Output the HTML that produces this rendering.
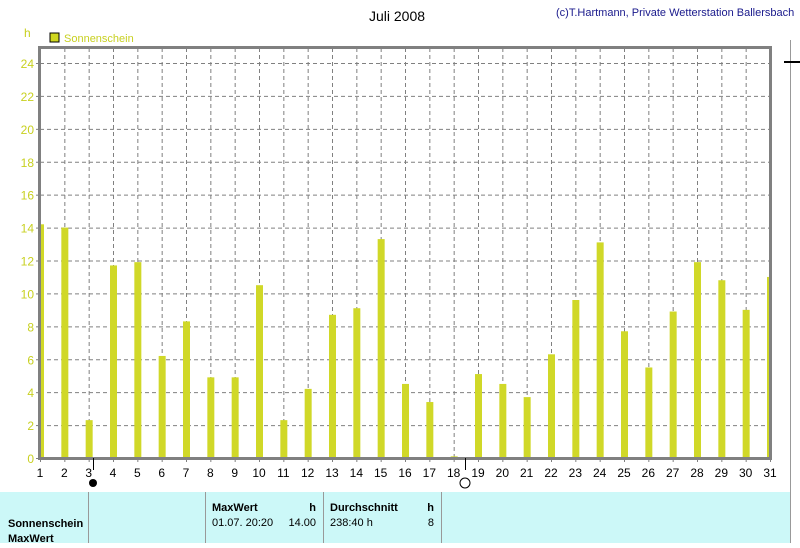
<!DOCTYPE html>
<html><head><meta charset="utf-8"><style>
body{margin:0;width:800px;height:543px;overflow:hidden;background:#fff;font-family:"Liberation Sans",sans-serif}
svg text{font-family:"Liberation Sans",sans-serif}
</style></head><body>
<svg id="c" width="800" height="543">
<text x="397" y="21" font-size="14" text-anchor="middle" fill="#000">Juli 2008</text>
<text x="556" y="16" font-size="11" fill="#1a1a8c">(c)T.Hartmann, Private Wetterstation Ballersbach</text>
<text x="24" y="37" font-size="12" fill="#c8d020">h</text>
<rect x="50" y="33" width="9" height="9" fill="#d0d820" stroke="#000"/>
<text x="64" y="42" font-size="11" fill="#c8d020">Sonnenschein</text>
<g id="grid"></g><g id="bars"></g><g id="axes"></g>
<rect x="0" y="492" width="790" height="51" fill="#ccf8f8"/>
<g stroke="#999" stroke-width="1"><line x1="88.5" y1="492" x2="88.5" y2="543"/><line x1="205.5" y1="492" x2="205.5" y2="543"/><line x1="323.5" y1="492" x2="323.5" y2="543"/><line x1="441.5" y1="492" x2="441.5" y2="543"/><line x1="790.5" y1="40" x2="790.5" y2="543"/></g>
<g font-size="11" fill="#000">
<text x="8" y="527" font-weight="bold">Sonnenschein</text>
<text x="8" y="542" font-weight="bold">MaxWert</text>
<text x="212" y="511" font-weight="bold">MaxWert</text>
<text x="316" y="511" font-weight="bold" text-anchor="end">h</text>
<text x="212" y="526">01.07.  20:20</text>
<text x="316" y="526" text-anchor="end">14.00</text>
<text x="330" y="511" font-weight="bold">Durchschnitt</text>
<text x="434" y="511" font-weight="bold" text-anchor="end">h</text>
<text x="330" y="526">238:40 h</text>
<text x="434" y="526" text-anchor="end">8</text>
</g>
<line x1="93.5" y1="458" x2="93.5" y2="470" stroke="#000"/>
<circle cx="93" cy="483" r="4" fill="#000"/>
<line x1="465.5" y1="458" x2="465.5" y2="470" stroke="#000"/>
<circle cx="465" cy="483" r="5" fill="none" stroke="#000"/>
<line x1="784" y1="62" x2="800" y2="62" stroke="#000" stroke-width="2"/>
</svg>
<script>
const days=[1,2,3,4,5,6,7,8,9,10,11,12,13,14,15,16,17,18,19,20,21,22,23,24,25,26,27,28,29,30,31];
const sunshine=[14.2,14,2.3,11.7,11.9,6.2,8.3,4.9,4.9,10.5,2.3,4.2,8.7,9.1,13.3,4.5,3.4,0.1,5.1,4.5,3.7,6.3,9.6,13.1,7.7,5.5,8.9,11.9,10.8,9,11];
const yTicks=[0,2,4,6,8,10,12,14,16,18,20,22,24];
const L=40,R=770,T=48,B=458,ymaxPx=63;
const x=d=>L+(d-1)*(R-L)/30;
const y=v=>B-v*(B-ymaxPx)/24;
const NS="http://www.w3.org/2000/svg";
function mk(t,a,p){const e=document.createElementNS(NS,t);for(const k in a)e.setAttribute(k,a[k]);p.appendChild(e);return e;}
const g=document.getElementById('grid'),bg=document.getElementById('bars'),ag=document.getElementById('axes');
yTicks.forEach(v=>{
 if(v>0){const l=mk('line',{x1:L,x2:R,y1:y(v)+.5,y2:y(v)+.5,stroke:'#808080','stroke-dasharray':'4,3'},g);
 
 }
 const t=mk('text',{x:34,y:y(v)+5,'font-size':12,'text-anchor':'end',fill:'#c8d020'},ag);t.textContent=v;
 
 
 mk('line',{x1:36,x2:L,y1:y(v)+.5,y2:y(v)+.5,stroke:'#808080'},ag);
});
days.forEach((d,i)=>{
 if(d>1&&d<31){const l=mk('line',{x1:x(d)+.5,x2:x(d)+.5,y1:T,y2:B,stroke:'#808080','stroke-dasharray':'4,3'},g);
 
 }
 const v=sunshine[i];
 let x0=x(d)-3,w=7;if(x0<L){w-=L-x0;x0=L;}if(x0+w>R)w=R-x0;
 const r=mk('rect',{x:x0,y:y(v),width:w,height:B-y(v),fill:'#d0d828'},bg);
 
 
 const t=mk('text',{x:x(d),y:477,'font-size':12,'text-anchor':'middle',fill:'#000'},ag);t.textContent=d;
 
 
 mk('line',{x1:x(d)+.5,x2:x(d)+.5,y1:B,y2:B+4,stroke:'#808080'},ag);
});
const f=mk('rect',{x:L-0.5,y:T-0.5,width:R-L+1,height:B-T+1,fill:'none',stroke:'#808080','stroke-width':3},ag);


</script>
</body></html>
